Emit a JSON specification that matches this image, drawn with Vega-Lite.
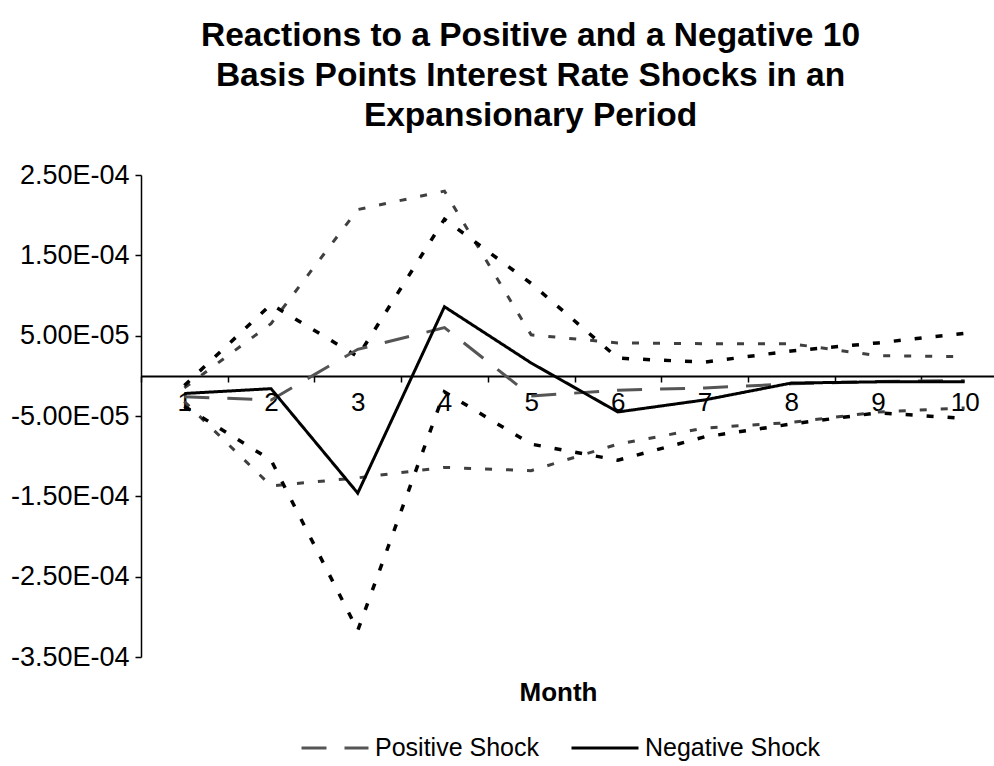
{
  "$schema": "https://vega.github.io/schema/vega-lite/v6.json",
  "autosize": {"type": "none"},
  "width": 853,
  "height": 482,
  "padding": {"left": 141, "top": 175, "right": 0, "bottom": 109},
  "background": "white",
  "title": {
    "text": ["Reactions to a Positive and a Negative 10", "Basis Points Interest Rate Shocks in an", "Expansionary Period"],
    "font": "Liberation Sans",
    "fontSize": 33.5,
    "fontWeight": "bold",
    "color": "black",
    "lineHeight": 40,
    "anchor": "middle",
    "frame": "group",
    "dx": -37,
    "offset": 28
  },
  "data": {
    "values": [
      {"month": 1, "series": "Positive Shock", "value": -0.000026},
      {"month": 2, "series": "Positive Shock", "value": -0.000030},
      {"month": 3, "series": "Positive Shock", "value": 0.000033},
      {"month": 4, "series": "Positive Shock", "value": 0.000060},
      {"month": 5, "series": "Positive Shock", "value": -0.000025},
      {"month": 6, "series": "Positive Shock", "value": -0.000018},
      {"month": 7, "series": "Positive Shock", "value": -0.000015},
      {"month": 8, "series": "Positive Shock", "value": -0.000010},
      {"month": 9, "series": "Positive Shock", "value": -0.000007},
      {"month": 10, "series": "Positive Shock", "value": -0.000006},
      {"month": 1, "series": "Negative Shock", "value": -0.000022},
      {"month": 2, "series": "Negative Shock", "value": -0.000016},
      {"month": 3, "series": "Negative Shock", "value": -0.000146},
      {"month": 4, "series": "Negative Shock", "value": 0.000086},
      {"month": 5, "series": "Negative Shock", "value": 0.000016},
      {"month": 6, "series": "Negative Shock", "value": -0.000045},
      {"month": 7, "series": "Negative Shock", "value": -0.000030},
      {"month": 8, "series": "Negative Shock", "value": -0.000009},
      {"month": 9, "series": "Negative Shock", "value": -0.0000075},
      {"month": 10, "series": "Negative Shock", "value": -0.0000075},
      {"month": 1, "series": "Positive upper", "value": -0.000015},
      {"month": 2, "series": "Positive upper", "value": 0.000065},
      {"month": 3, "series": "Positive upper", "value": 0.000207},
      {"month": 4, "series": "Positive upper", "value": 0.000230},
      {"month": 5, "series": "Positive upper", "value": 0.000051},
      {"month": 6, "series": "Positive upper", "value": 0.000041},
      {"month": 7, "series": "Positive upper", "value": 0.000040},
      {"month": 8, "series": "Positive upper", "value": 0.000040},
      {"month": 9, "series": "Positive upper", "value": 0.000025},
      {"month": 10, "series": "Positive upper", "value": 0.000024},
      {"month": 1, "series": "Positive lower", "value": -0.000032},
      {"month": 2, "series": "Positive lower", "value": -0.000137},
      {"month": 3, "series": "Positive lower", "value": -0.000127},
      {"month": 4, "series": "Positive lower", "value": -0.000114},
      {"month": 5, "series": "Positive lower", "value": -0.000118},
      {"month": 6, "series": "Positive lower", "value": -0.000085},
      {"month": 7, "series": "Positive lower", "value": -0.000065},
      {"month": 8, "series": "Positive lower", "value": -0.000058},
      {"month": 9, "series": "Positive lower", "value": -0.000045},
      {"month": 10, "series": "Positive lower", "value": -0.000040},
      {"month": 1, "series": "Negative upper", "value": -0.000012},
      {"month": 2, "series": "Negative upper", "value": 0.000089},
      {"month": 3, "series": "Negative upper", "value": 0.000024},
      {"month": 4, "series": "Negative upper", "value": 0.000195},
      {"month": 5, "series": "Negative upper", "value": 0.000115},
      {"month": 6, "series": "Negative upper", "value": 0.000022},
      {"month": 7, "series": "Negative upper", "value": 0.000017},
      {"month": 8, "series": "Negative upper", "value": 0.000031},
      {"month": 9, "series": "Negative upper", "value": 0.000041},
      {"month": 10, "series": "Negative upper", "value": 0.000053},
      {"month": 1, "series": "Negative lower", "value": -0.000038},
      {"month": 2, "series": "Negative lower", "value": -0.000105},
      {"month": 3, "series": "Negative lower", "value": -0.000317},
      {"month": 4, "series": "Negative lower", "value": -0.000020},
      {"month": 5, "series": "Negative lower", "value": -0.000085},
      {"month": 6, "series": "Negative lower", "value": -0.000105},
      {"month": 7, "series": "Negative lower", "value": -0.000076},
      {"month": 8, "series": "Negative lower", "value": -0.000060},
      {"month": 9, "series": "Negative lower", "value": -0.000046},
      {"month": 10, "series": "Negative lower", "value": -0.000053}
    ]
  },
  "encoding": {
    "x": {
      "field": "month",
      "type": "ordinal",
      "bandPosition": 0.5,
      "scale": {"type": "band", "range": [0, 867], "paddingInner": 0, "paddingOuter": 0},
      "axis": {
        "orient": "bottom",
        "offset": -281,
        "labelAngle": 0,
        "domainColor": "black",
        "domainWidth": 2,
        "tickBand": "extent",
        "ticks": true,
        "tickColor": "black",
        "tickWidth": 1.5,
        "tickSize": 6,
        "labelFont": "Liberation Sans",
        "labelFontSize": 26,
        "labelColor": "black",
        "labelPadding": 7,
        "title": "Month",
        "titleFont": "Liberation Sans",
        "titleFontSize": 26,
        "titleFontWeight": "bold",
        "titleColor": "black",
        "titleX": 417,
        "titleY": 303,
        "grid": false
      }
    },
    "y": {
      "field": "value",
      "type": "quantitative",
      "scale": {"domain": [-0.00035, 0.00025], "nice": false, "zero": false},
      "axis": {
        "values": [-0.00035, -0.00025, -0.00015, -0.00005, 0.00005, 0.00015, 0.00025],
        "labelExpr": "replace(replace(format(datum.value, '.2e'), 'e-', 'E-0'), '\u2212', '-')",
        "domainColor": "black",
        "domainWidth": 1.5,
        "tickColor": "black",
        "tickWidth": 1.5,
        "tickSize": 6,
        "labelFont": "Liberation Sans",
        "labelFontSize": 27,
        "labelColor": "black",
        "labelPadding": 6,
        "title": null,
        "grid": false
      }
    }
  },
  "layer": [
    {
      "transform": [{"filter": "indexof(['Positive upper','Positive lower'], datum.series) >= 0"}],
      "mark": {"type": "line", "color": "#404040", "strokeWidth": 3, "strokeDash": [7, 14]},
      "encoding": {"detail": {"field": "series"}}
    },
    {
      "transform": [{"filter": "indexof(['Negative upper','Negative lower'], datum.series) >= 0"}],
      "mark": {"type": "line", "color": "black", "strokeWidth": 3.5, "strokeDash": [7, 14]},
      "encoding": {"detail": {"field": "series"}}
    },
    {
      "transform": [{"filter": "indexof(['Positive Shock','Negative Shock'], datum.series) >= 0"}],
      "mark": {"type": "line", "strokeWidth": 3},
      "encoding": {
        "color": {
          "field": "series",
          "type": "nominal",
          "scale": {"domain": ["Positive Shock", "Negative Shock"], "range": ["#555555", "#000000"]},
          "legend": {
            "title": null,
            "orient": "none",
            "direction": "horizontal",
            "legendX": 159,
            "legendY": 538,
            "padding": 0,
            "symbolType": "stroke",
            "symbolSize": 4489,
            "symbolStrokeWidth": 3,
            "labelFont": "Liberation Sans",
            "labelFontSize": 25,
            "labelColor": "black",
            "labelOffset": 5,
            "labelLimit": 400,
            "columnPadding": 26
          }
        },
        "strokeDash": {
          "field": "series",
          "type": "nominal",
          "scale": {"domain": ["Positive Shock", "Negative Shock"], "range": [[25, 18], [1, 0]]},
          "legend": {
            "title": null,
            "orient": "none",
            "direction": "horizontal",
            "legendX": 159,
            "legendY": 538,
            "padding": 0,
            "symbolType": "stroke",
            "symbolSize": 4489,
            "symbolStrokeWidth": 3,
            "labelFont": "Liberation Sans",
            "labelFontSize": 25,
            "labelColor": "black",
            "labelOffset": 5,
            "labelLimit": 400,
            "columnPadding": 26
          }
        }
      }
    }
  ],
  "config": {"view": {"stroke": null}}
}
